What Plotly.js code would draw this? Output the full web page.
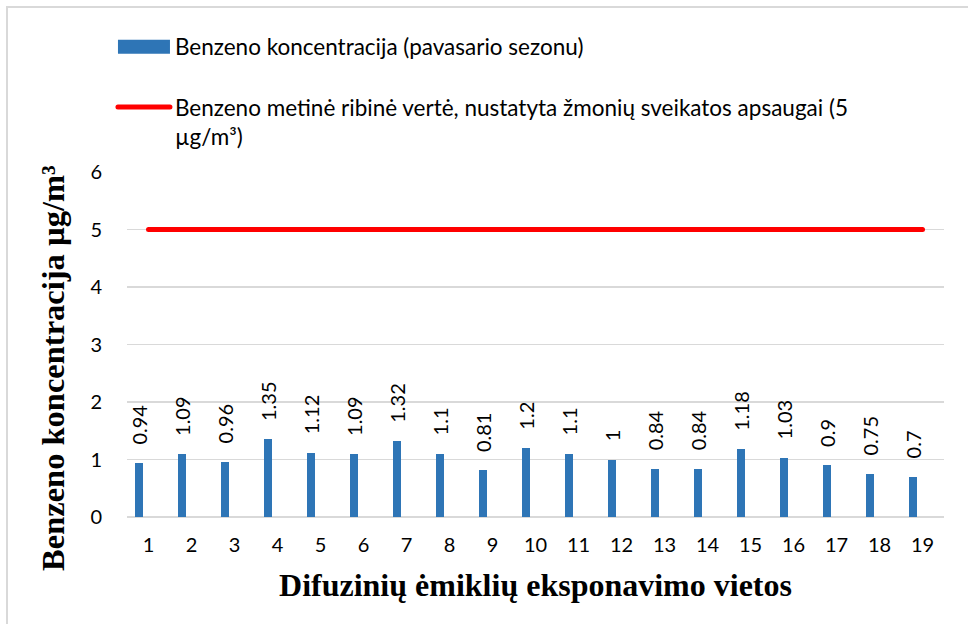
<!DOCTYPE html>
<html>
<head>
<meta charset="utf-8">
<script src="https://cdn.plot.ly/plotly-3.0.1.min.js"></script>
<style>
  html, body { margin: 0; padding: 0; background: #fff; overflow: hidden; }
  #wrap { position: relative; width: 968px; height: 624px; overflow: hidden; }
  #chart { width: 968px; height: 624px; }
  #frame { position: absolute; left: 6px; top: 6px; width: 2000px; height: 2000px;
           border: 2px solid #d9d9d9; pointer-events: none; box-sizing: border-box; }
</style>
</head>
<body>
<div id="wrap">
  <div id="chart"></div>
  <div id="frame"></div>
</div>
<script>
// Data
const sites = [1, 2, 3, 4, 5, 6, 7, 8, 9, 10, 11, 12, 13, 14, 15, 16, 17, 18, 19];
const benzene = [0.94, 1.09, 0.96, 1.35, 1.12, 1.09, 1.32, 1.1, 0.81, 1.2, 1.1, 1, 0.84, 0.84, 1.18, 1.03, 0.9, 0.75, 0.7];
const limitValue = [5, 5, 5, 5, 5, 5, 5, 5, 5, 5, 5, 5, 5, 5, 5, 5, 5, 5, 5];
const barName = 'Benzeno koncentracija (pavasario sezonu)';
const lineName = 'Benzeno metinė ribinė vertė, nustatyta žmonių sveikatos apsaugai (5<br>µg/m³)';
const yTitle = 'Benzeno koncentracija µg/m³';
const xTitle = 'Difuzinių ėmiklių eksponavimo vietos';
const yTicks = [0, 1, 2, 3, 4, 5, 6];

const sans = 'Lato, "Open Sans", sans-serif';
const serif = '"Liberation Serif", "DejaVu Serif", serif';
const pad = '\u00a0\u00a0\u00a0';

const traces = [
  {
    type: 'bar',
    x: sites,
    y: benzene,
    name: barName,
    legendgroup: 'a',
    marker: { color: '#2E75B6' },
    width: 0.186,
    offset: -0.314,
    text: benzene.map(v => pad + String(v)),
    texttemplate: '%{text}',
    textposition: 'outside',
    textangle: -90,
    constraintext: 'none',
    cliponaxis: false,
    textfont: { family: sans, size: 20, color: '#000' },
    hoverinfo: 'x+y'
  },
  {
    type: 'scatter',
    mode: 'lines',
    x: sites,
    y: limitValue,
    name: lineName,
    legendgroup: 'b',
    line: { color: '#FF0000', width: 5 },
    hoverinfo: 'x+y'
  }
];

const layout = {
  width: 968,
  height: 624,
  margin: { l: 127, r: 24, t: 172, b: 107, autoexpand: false },
  paper_bgcolor: '#ffffff',
  plot_bgcolor: '#ffffff',
  showlegend: true,
  legend: {
    orientation: 'v',
    xref: 'container', yref: 'container',
    x: 0.1167, y: 0.959,
    xanchor: 'left', yanchor: 'top',
    traceorder: 'grouped',
    tracegroupgap: 28,
    valign: 'top',
    itemwidth: 52,
    font: { family: sans, size: 22.5, color: '#000' },
    bgcolor: 'rgba(0,0,0,0)'
  },
  xaxis: {
    type: 'linear',
    range: [0.5, 19.5],
    tickmode: 'array',
    tickvals: sites,
    ticktext: sites.map(String),
    tickangle: 0,
    showgrid: false,
    zeroline: false,
    showline: false,
    ticks: '',
    ticklabelstandoff: 14,
    tickfont: { family: sans, size: 20, color: '#000' },
    title: { text: xTitle, font: { family: serif, size: 32, color: '#000', weight: 'bold' }, standoff: 18 },
    automargin: true,
    fixedrange: true
  },
  yaxis: {
    range: [0, 6],
    tickmode: 'array',
    tickvals: yTicks,
    showgrid: true,
    gridcolor: '#D9D9D9',
    gridwidth: 1.5,
    zeroline: true,
    zerolinecolor: '#D9D9D9',
    zerolinewidth: 1.5,
    showline: false,
    ticks: 'outside',
    ticklen: 20,
    tickcolor: 'rgba(0,0,0,0)',
    tickfont: { family: sans, size: 20, color: '#000' },
    automargin: true,
    fixedrange: true
  },
  annotations: [{
    text: yTitle,
    xref: 'paper', yref: 'paper',
    x: 0, y: 0.432,
    xshift: -74,
    xanchor: 'center', yanchor: 'middle',
    textangle: -90,
    showarrow: false,
    font: { family: serif, size: 32.5, color: '#000', weight: 'bold' }
  }],
  bargap: 0
};

Plotly.newPlot('chart', traces, layout, { displayModeBar: false, staticPlot: true }).then(gd => {
  // widen the bar legend swatch to match the reference's rectangle
  gd.querySelectorAll('.legend path.legendbar, .legend .legendpoints path').forEach(p => {
    p.setAttribute('d', 'M26,7H-26V-7H26Z');
  });
  // round caps on the limit line
  gd.querySelectorAll('.scatterlayer path.js-line, .legend path.js-line').forEach(p => {
    p.style.strokeLinecap = 'round';
  });
});
</script>
</body>
</html>
